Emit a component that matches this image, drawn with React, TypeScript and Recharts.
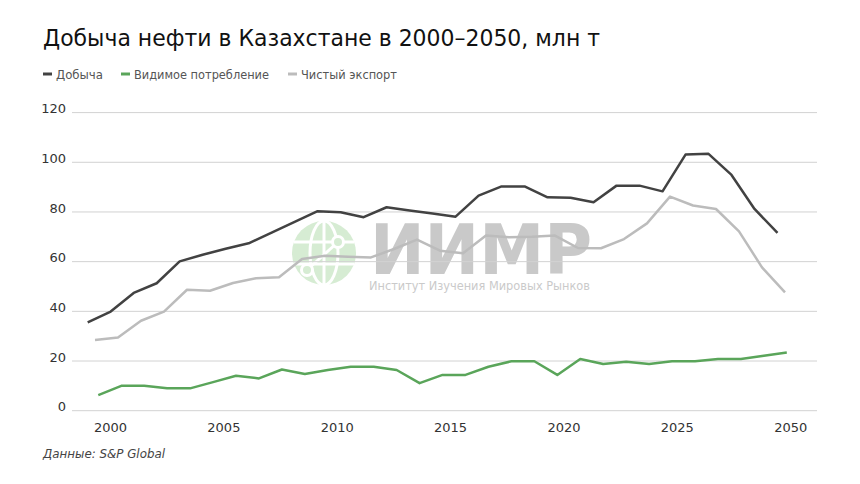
import React from 'react';
import { LineChart, Line, XAxis, YAxis, CartesianGrid } from 'recharts';

const years = [
  '2000', '2001', '2002', '2003', '2004', '2005', '2006', '2007', '2008', '2009',
  '2010', '2011', '2012', '2013', '2014', '2015', '2016', '2017', '2018', '2019',
  '2020', '2021', '2022', '2023', '2024', '2025', '2030', '2035', '2040', '2045', '2050',
];

const production = [
  35.6, 39.9, 47.4, 51.3, 60.1, 62.8, 65.2, 67.4, 71.7, 76.0,
  80.3, 79.9, 77.9, 81.9, 80.6, 79.4, 78.1, 86.6, 90.3, 90.3,
  85.9, 85.7, 83.9, 90.6, 90.6, 88.3, 103.1, 103.4, 94.9, 81.2, 71.6,
];

const consumption = [
  6.3, 10.0, 10.0, 9.0, 9.0, 11.5, 14.1, 13.0, 16.6, 14.8,
  16.4, 17.7, 17.7, 16.4, 11.1, 14.4, 14.4, 17.7, 19.9, 19.9,
  14.4, 20.8, 18.8, 19.7, 18.8, 19.9, 19.9, 20.8, 20.8, 22.1, 23.4,
];

const netExport = [
  28.5, 29.5, 36.2, 39.9, 48.7, 48.3, 51.4, 53.3, 53.7, 61.1,
  62.4, 62.0, 61.7, 65.1, 68.9, 64.4, 63.4, 70.5, 69.8, 70.0,
  70.5, 65.5, 65.4, 69.1, 75.4, 86.2, 82.6, 81.2, 72.2, 57.7, 47.6,
];

const yTicks = [0, 20, 40, 60, 80, 100, 120];
const xTickLabels = ['2000', '2005', '2010', '2015', '2020', '2025', '2050'];

const seriesNames = ['Добыча', 'Видимое потребление', 'Чистый экспорт'];
const titleText = 'Добыча нефти в Казахстане в 2000–2050, млн т';
const sourceText = 'Данные: S&P Global';

const COLORS = { production: '#424242', consumption: '#5aa55a', netExport: '#bcbcbc' };
const FONT = '"DejaVu Sans", "Noto Sans", sans-serif';

const data = years.map((year, i) => ({
  year,
  production: production[i],
  consumption: consumption[i],
  netExport: netExport[i],
}));

const XTick = (props: any) => {
  const { x, payload } = props;
  return (
    <text x={x} y={431.5} textAnchor="middle" fontSize={13} fill="#333" fontFamily={FONT}>
      {payload.value}
    </text>
  );
};

const YTick = (props: any) => {
  const { x, y, payload } = props;
  return (
    <text x={x} y={y - 4} dy="0.36em" textAnchor="end" fontSize={13} fill="#333" fontFamily={FONT}>
      {payload.value}
    </text>
  );
};

const Watermark = () => (
  <svg width={860} height={484} style={{ position: 'absolute', left: 0, top: 0 }}>
    <g>
      <circle cx={324} cy={253} r={32} fill="#d6ecd3" />
      <ellipse cx={324} cy={253} rx={14} ry={32} fill="none" stroke="#fff" strokeWidth={3} />
      <line x1={324} y1={221} x2={324} y2={285} stroke="#fff" strokeWidth={3} />
      <line x1={294} y1={242} x2={354} y2={242} stroke="#fff" strokeWidth={3} />
      <line x1={294} y1={264} x2={354} y2={264} stroke="#fff" strokeWidth={3} />
      <line x1={307} y1={270} x2={338} y2={242} stroke="#fff" strokeWidth={3} />
      <circle cx={338} cy={242} r={5.5} fill="#d6ecd3" stroke="#fff" strokeWidth={3} />
      <circle cx={307} cy={270} r={5.5} fill="#d6ecd3" stroke="#fff" strokeWidth={3} />
    </g>
    <text x={370} y={274} fontSize={70} fontWeight={700} fill="#c9c9c9" fontFamily={FONT}
      textLength={222} lengthAdjust="spacingAndGlyphs">ИИМР</text>
    <text x={369} y={290} fontSize={12.5} fill="#cacaca" fontFamily={FONT}
      textLength={221} lengthAdjust="spacingAndGlyphs">Институт Изучения Мировых Рынков</text>
  </svg>
);

const Overlay = () => {
  const legendItems = [
    { name: seriesNames[0], color: COLORS.production, x: 43, len: 47 },
    { name: seriesNames[1], color: COLORS.consumption, x: 121, len: 135 },
    { name: seriesNames[2], color: COLORS.netExport, x: 288, len: 96 },
  ];
  return (
    <svg width={860} height={484} style={{ position: 'absolute', left: 0, top: 0, pointerEvents: 'none' }}>
      <text x={43} y={45.5} fontSize={23} fill="#111" fontFamily={FONT}
        textLength={557} lengthAdjust="spacingAndGlyphs">{titleText}</text>
      {legendItems.map((it) => (
        <g key={it.name}>
          <line x1={it.x} y1={74} x2={it.x + 9} y2={74} stroke={it.color} strokeWidth={3} />
          <text x={it.x + 13} y={78.5} fontSize={12.5} fill="#555" fontFamily={FONT}
            textLength={it.len} lengthAdjust="spacingAndGlyphs">{it.name}</text>
        </g>
      ))}
      <text x={43} y={457.5} fontSize={12.5} fontStyle="italic" fill="#444" fontFamily={FONT}
        textLength={122} lengthAdjust="spacingAndGlyphs">{sourceText}</text>
    </svg>
  );
};

export default function App() {
  return (
    <div style={{ position: 'absolute', left: 0, top: 0, width: 860, height: 484, background: '#fff', overflow: 'hidden' }}>
      <Watermark />
      <div style={{ position: 'absolute', left: 0, top: 0 }}>
        <LineChart width={860} height={484} data={data}
          margin={{ top: 112.6, right: 43, bottom: 43.3, left: 0 }}>
          <CartesianGrid vertical={false} stroke="#d2d2d2" strokeWidth={1} xAxisId="labels" yAxisId="y" />
          <XAxis xAxisId="labels" dataKey="year" type="category" scale="point"
            padding={{ left: 38.5, right: 26.3 }} ticks={xTickLabels} interval={0}
            axisLine={false} tickLine={false} tickSize={0} tickMargin={0} height={30} tick={<XTick />} />
          <XAxis xAxisId="prod" dataKey="year" type="category" scale="point" hide
            padding={{ left: 15.7, right: 39.5 }} />
          <XAxis xAxisId="exp" dataKey="year" type="category" scale="point" hide
            padding={{ left: 23, right: 32 }} />
          <XAxis xAxisId="cons" dataKey="year" type="category" scale="point" hide
            padding={{ left: 26.3, right: 30.2 }} />
          <YAxis yAxisId="y" domain={[0, 120]} ticks={yTicks} width={72} axisLine={false}
            tickLine={false} tickSize={0} tickMargin={6} tick={<YTick />} />
          <Line xAxisId="cons" yAxisId="y" dataKey="consumption" name={seriesNames[1]} stroke={COLORS.consumption}
            strokeWidth={2.5} dot={false} activeDot={false} isAnimationActive={false} strokeLinejoin="round" />
          <Line xAxisId="exp" yAxisId="y" dataKey="netExport" name={seriesNames[2]} stroke={COLORS.netExport}
            strokeWidth={2.5} dot={false} activeDot={false} isAnimationActive={false} strokeLinejoin="round" />
          <Line xAxisId="prod" yAxisId="y" dataKey="production" name={seriesNames[0]} stroke={COLORS.production}
            strokeWidth={2.5} dot={false} activeDot={false} isAnimationActive={false} strokeLinejoin="round" />
        </LineChart>
      </div>
      <Overlay />
    </div>
  );
}
